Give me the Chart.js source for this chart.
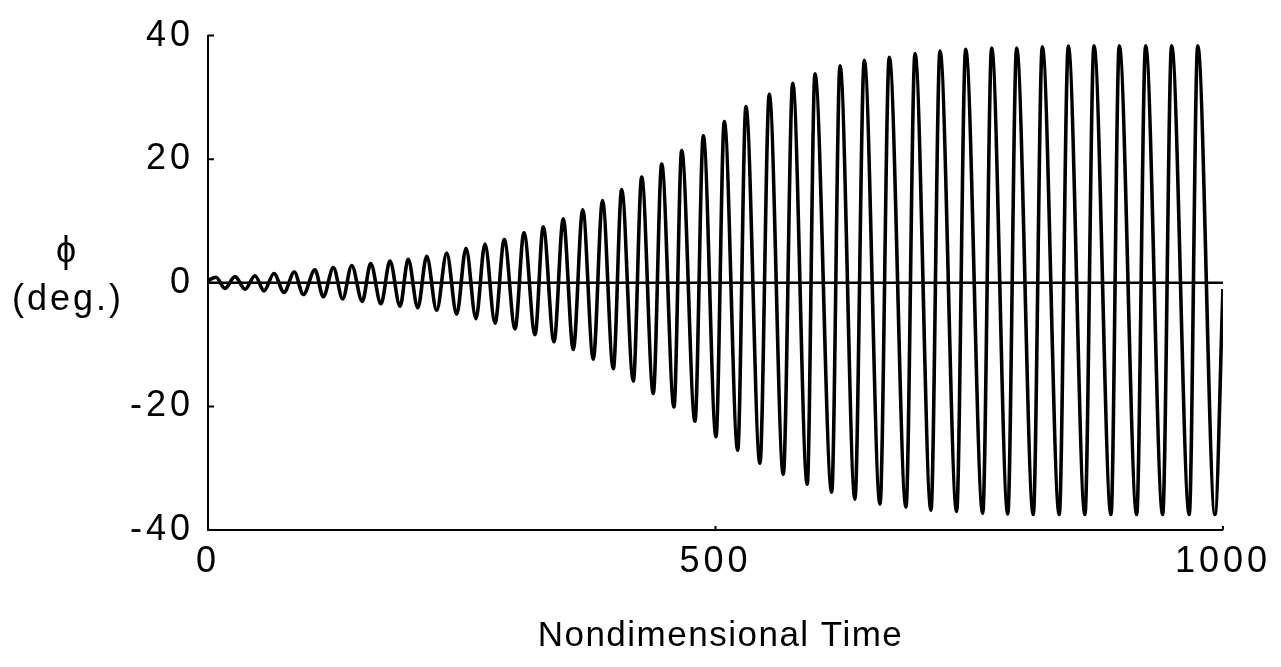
<!DOCTYPE html>
<html lang="en">
<head>
    <meta charset="UTF-8">
    <title>Roll angle vs nondimensional time</title>
    <script src="https://cdn.jsdelivr.net/npm/chart.js"></script>
    <style>
        body {
            margin: 0;
            background-color: white;
        }
        canvas {
            display: block;
        }
    </style>
</head>
<body>
    <canvas id="phiChart" width="1281" height="667"></canvas>

    <script>
        // extrema of the phi trace (time, deg), start and end included
        const phiTime = [
            0, 7.9, 16.7, 26.6, 36.5, 46.3, 55.2, 65.0, 74.9, 85.0, 93.9,
            105.4, 113.6, 123.5, 132.7, 141.6, 152.0, 160.3, 170.4, 179.3, 189.2,
            197.2, 206.7, 215.5, 225.3, 235.2, 245.0, 254.2, 264.0, 272.9, 282.8,
            291.9, 302.5, 311.3, 322.2, 330.3, 340.9, 350.0, 359.9, 369.2, 379.6,
            388.7, 399.3, 407.6, 419.0, 427.3, 438.7, 447.0, 459.1, 466.7, 479.8,
            488.0, 500.5, 508.7, 521.9, 530.0, 543.8, 553.0, 566.8, 576.1, 590.4,
            598.0, 614.5, 622.7, 637.4, 646.6, 662.1, 671.2, 687.7, 696.6, 712.3,
            721.2, 737.6, 746.5, 763.3, 772.1, 788.0, 796.7, 813.1, 822.0, 838.7,
            847.6, 864.0, 872.9, 889.7, 897.8, 915.0, 923.8, 940.6, 949.4, 966.8,
            975.1, 992.1, 1000
        ];
        const phiDeg = [
            0.4, 0.9, -0.9, 1.0, -1.05, 1.15, -1.3, 1.5, -1.55, 1.75, -1.9,
            2.1, -2.25, 2.45, -2.6, 2.8, -3.0, 3.1, -3.4, 3.5, -3.8,
            3.8, -4.05, 4.3, -4.45, 4.8, -5.1, 5.6, -5.8, 6.25, -6.55,
            7.0, -7.45, 8.1, -8.4, 9.05, -9.55, 10.35, -10.8, 11.8, -12.35,
            13.3, -13.9, 15.1, -15.9, 17.1, -17.9, 19.2, -20.1, 21.4, -22.4,
            23.8, -24.9, 26.1, -27.1, 28.5, -29.2, 30.5, -31.0, 32.3, -32.6,
            33.8, -33.9, 35.1, -35.0, 36.0, -35.8, 36.5, -36.3, 37.1, -36.8,
            37.5, -37.0, 37.8, -37.3, 38.0, -37.4, 38.0, -37.5, 38.2, -37.5,
            38.3, -37.5, 38.35, -37.5, 38.35, -37.5, 38.35, -37.5, 38.35, -37.5,
            38.35, -37.5, -1
        ];
        // horizontal reference line at phi = 0
        const zeroTime = [0, 1000];
        const zeroDeg = [0, 0];

        const xTicks = [0, 500, 1000];
        const yTicks = [-40, -20, 0, 20, 40];

        const FONT = "'Liberation Sans', Arial, Helvetica, sans-serif";

        // wide letter spacing like the old plot, the unrotated labels and inward ticks
        const plotStyle = {
            id: 'plotStyle',
            beforeUpdate(chart) {
                chart.ctx.letterSpacing = '4px';
            },
            beforeDraw(chart) {
                chart.ctx.letterSpacing = '4px';
            },
            afterDraw(chart) {
                const ctx = chart.ctx;
                const xs = chart.scales.x;
                const ys = chart.scales.y;
                ctx.save();
                ctx.strokeStyle = 'black';
                ctx.lineWidth = 2;
                ctx.beginPath();
                yTicks.forEach(v => {
                    if (v === -40) return;
                    const py = ys.getPixelForValue(v);
                    ctx.moveTo(xs.left, py);
                    ctx.lineTo(xs.left + 6, py);
                });
                [500, 1000].forEach(v => {
                    const px = xs.getPixelForValue(v);
                    ctx.moveTo(px, ys.bottom);
                    ctx.lineTo(px, ys.bottom - 4);
                });
                ctx.stroke();

                ctx.fillStyle = 'black';
                ctx.textAlign = 'center';
                ctx.textBaseline = 'middle';
                ctx.letterSpacing = '0px';
                ctx.font = '36px ' + FONT;
                ctx.fillText('\u03D5', 66, 252);
                ctx.letterSpacing = '3px';
                ctx.fillText('(deg.)', 68, 300);

                // x axis title
                ctx.letterSpacing = '1.5px';
                ctx.font = '35px ' + FONT;
                ctx.fillText('Nondimensional Time', (xs.left + xs.right) / 2 + 5, 636);
                ctx.restore();
            }
        };

        const ctx = document.getElementById('phiChart').getContext('2d');
        new Chart(ctx, {
            type: 'line',
            data: {
                datasets: [
                    {
                        label: 'phi',
                        data: phiTime.map((t, i) => ({ x: t, y: phiDeg[i] })),
                        borderColor: 'black',
                        borderWidth: 3.6,
                        pointRadius: 0,
                        cubicInterpolationMode: 'monotone',
                        fill: false
                    },
                    {
                        label: 'zero',
                        data: zeroTime.map((t, i) => ({ x: t, y: zeroDeg[i] })),
                        borderColor: 'black',
                        borderWidth: 2.5,
                        pointRadius: 0,
                        fill: false
                    }
                ]
            },
            options: {
                responsive: false,
                animation: false,
                layout: {
                    padding: { top: 24, right: 58, left: 0, bottom: 0 }
                },
                scales: {
                    x: {
                        type: 'linear',
                        min: 0,
                        max: 1000,
                        afterBuildTicks: scale => {
                            scale.ticks = xTicks.map(v => ({ value: v }));
                        },
                        afterFit: scale => { scale.height = 137; },
                        ticks: {
                            color: 'black',
                            font: { family: FONT, size: 36 },
                            padding: 10,
                            maxRotation: 0,
                            autoSkip: false,
                            callback: v => String(v)
                        },
                        grid: { display: false, drawTicks: false },
                        border: { display: true, color: 'black', width: 2 }
                    },
                    y: {
                        min: -40,
                        max: 40,
                        afterBuildTicks: scale => {
                            scale.ticks = yTicks.map(v => ({ value: v }));
                        },
                        afterFit: scale => { scale.width = 208; },
                        ticks: {
                            color: 'black',
                            font: { family: FONT, size: 36 },
                            padding: 14,
                            autoSkip: false,
                            callback: v => String(v)
                        },
                        grid: { display: false, drawTicks: false },
                        border: { display: true, color: 'black', width: 2 }
                    }
                },
                plugins: {
                    legend: { display: false },
                    tooltip: { enabled: false }
                }
            },
            plugins: [plotStyle]
        });
    </script>
</body>
</html>
